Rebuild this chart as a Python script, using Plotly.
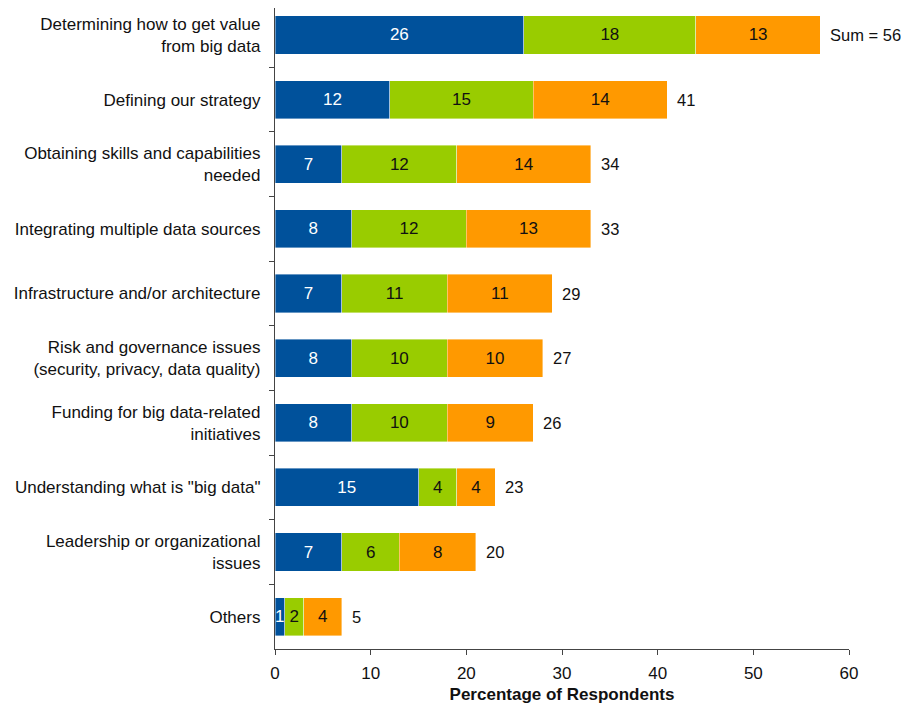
import plotly.graph_objects as go

categories = [
    "Determining how to get value<br>from big data",
    "Defining our strategy",
    "Obtaining skills and capabilities<br>needed",
    "Integrating multiple data sources",
    "Infrastructure and/or architecture",
    "Risk and governance issues<br>(security, privacy, data quality)",
    "Funding for big data-related<br>initiatives",
    "Understanding what is \"big data\"",
    "Leadership or organizational<br>issues",
    "Others",
]
series_blue = [26, 12, 7, 8, 7, 8, 8, 15, 7, 1]
series_green = [18, 15, 12, 12, 11, 10, 10, 4, 6, 2]
series_orange = [13, 14, 14, 13, 11, 10, 9, 4, 8, 4]
sum_labels = ["Sum = 56", "41", "34", "33", "29", "27", "26", "23", "20", "5"]
x_ticks = [0, 10, 20, 30, 40, 50, 60]

FONT = "Arial, Liberation Sans, sans-serif"
colors = ["#00519B", "#99CC00", "#FF9900"]
text_colors = ["white", "#111111", "#111111"]

fig = go.Figure()
for vals, col, tcol in zip([series_blue, series_green, series_orange], colors, text_colors):
    fig.add_trace(go.Bar(
        y=categories, x=vals, orientation="h",
        marker=dict(color=col, line=dict(color="rgba(255,255,255,0.5)", width=0.8)),
        text=[str(v) for v in vals], textposition="inside",
        insidetextanchor="middle",
        textfont=dict(color=tcol, size=17, family=FONT),
        hoverinfo="skip", showlegend=False,
    ))

totals = [b + g + o for b, g, o in zip(series_blue, series_green, series_orange)]
for cat, tot, lab in zip(categories, totals, sum_labels):
    fig.add_annotation(x=tot, y=cat, text=lab, showarrow=False,
                       xanchor="left", xshift=8,
                       font=dict(size=16.5, color="#111111", family=FONT))

# page body has an 8px margin; figure offset accordingly
fig.update_layout(
    barmode="stack", bargap=0.41,
    width=901, height=696,
    margin=dict(l=267, r=60, t=0, b=55),
    plot_bgcolor="white", paper_bgcolor="white",
    font=dict(family=FONT, size=17, color="#111111"),
    uniformtext=dict(mode="show", minsize=17),
)
fig.update_xaxes(
    range=[0, 60], tickvals=x_ticks, showgrid=False, zeroline=False,
    showline=True, linecolor="#444444", linewidth=1.3,
    ticks="outside", ticklen=5, tickcolor="#444444",
    ticklabelstandoff=3,
    tickfont=dict(size=17, family=FONT, color="#111111"),
    title=dict(text="<b>Percentage of Respondents</b>", font=dict(size=17, family=FONT, color="#111111"), standoff=11),
)
fig.update_yaxes(
    range=[9.5, -0.4175], showgrid=False, zeroline=False,
    showline=True, linecolor="#444444", linewidth=1.3,
    ticks="outside", ticklen=5, tickcolor="#444444", tickson="boundaries",
    tickfont=dict(size=17, family=FONT, color="#111111"),
    ticklabelstandoff=10,
)

fig.write_html("out.html")
